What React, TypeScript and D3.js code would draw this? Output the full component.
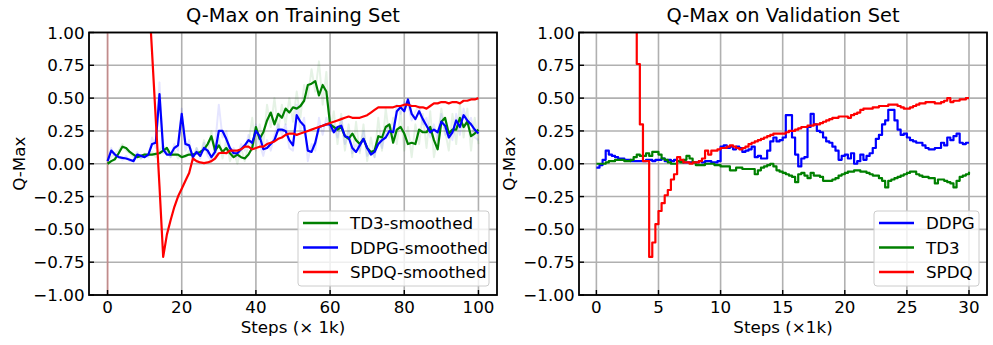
import React from 'react';
import * as d3 from 'd3';

// ---------- Training set: one point per 1k steps ----------
const trainSteps = d3.range(0, 101);

const trainTd3Smoothed = [
  0.0, 0.02, 0.035, 0.08, 0.13, 0.12, 0.09, 0.07, 0.05, 0.06,
  0.07, 0.07, 0.07, 0.075, 0.08, 0.1, 0.12, 0.07, 0.07, 0.07,
  0.05, 0.06, 0.07, 0.07, 0.08, 0.09, 0.11, 0.15, 0.21, 0.1,
  0.14, 0.09, 0.12, 0.08, 0.05, 0.07, 0.05, 0.04, 0.07, 0.12,
  0.28, 0.19, 0.24, 0.33, 0.39, 0.3, 0.38, 0.35, 0.42, 0.39,
  0.43, 0.42, 0.44, 0.48, 0.6, 0.61, 0.63, 0.52, 0.6, 0.55,
  0.3, 0.28, 0.26, 0.28, 0.21, 0.19, 0.23, 0.18, 0.15, 0.19,
  0.12, 0.09, 0.1, 0.21, 0.2, 0.28, 0.3, 0.16, 0.26, 0.28,
  0.23, 0.15, 0.16, 0.15, 0.26, 0.24, 0.24, 0.28, 0.18, 0.11,
  0.32, 0.35, 0.23, 0.26, 0.26, 0.35, 0.28, 0.32, 0.21, 0.23,
  0.26,
];

const trainDdpgSmoothed = [
  0.02, 0.1, 0.07, 0.05, 0.045, 0.04, 0.03, 0.02, 0.07, 0.06,
  0.05, 0.07, 0.15, 0.16, 0.53, 0.11, 0.07, 0.07, 0.12, 0.14,
  0.38, 0.15, 0.14, 0.05, 0.09, 0.06, 0.12, 0.1, 0.05, 0.09,
  0.25, 0.25, 0.19, 0.12, 0.08, 0.08, 0.11, 0.14, 0.18, 0.16,
  0.25, 0.21, 0.11, 0.12, 0.15, 0.18, 0.26, 0.26, 0.25, 0.18,
  0.14, 0.37, 0.32, 0.29, 0.1, 0.09, 0.16, 0.28, 0.29, 0.3,
  0.3, 0.24, 0.28, 0.29, 0.21, 0.2, 0.12, 0.09, 0.14, 0.19,
  0.12, 0.07, 0.09, 0.15, 0.18, 0.2, 0.25, 0.24, 0.4, 0.43,
  0.4, 0.49, 0.38, 0.34, 0.4, 0.34, 0.29, 0.24, 0.26, 0.24,
  0.32, 0.29, 0.2, 0.24, 0.33, 0.28, 0.37, 0.33, 0.3, 0.26,
  0.23,
];

const trainSpdqSmoothed = [
  9, 8, 7, 6, 5, 4.2, 3.5, 2.9, 2.4, 2.0,
  1.7, 1.35, 0.85, 0.34, -0.17, -0.71, -0.54, -0.43, -0.33, -0.25,
  -0.19, -0.13, -0.07, 0.04, 0.02, 0.01, 0.005, 0.01, 0.02, 0.04,
  0.08, 0.085, 0.08, 0.1, 0.1, 0.1, 0.11, 0.13, 0.13, 0.11,
  0.12, 0.13, 0.13, 0.15, 0.16, 0.17, 0.19, 0.2, 0.22, 0.23,
  0.23, 0.22, 0.23, 0.24, 0.25, 0.26, 0.27, 0.28, 0.29, 0.3,
  0.31, 0.32, 0.33, 0.34, 0.35, 0.36, 0.35, 0.35, 0.35, 0.36,
  0.37, 0.39, 0.41, 0.43, 0.43, 0.43, 0.43, 0.43, 0.44, 0.44,
  0.45, 0.45, 0.44, 0.44, 0.43, 0.43, 0.42, 0.44, 0.46, 0.46,
  0.47, 0.47, 0.46, 0.47, 0.47, 0.46, 0.48, 0.48, 0.49, 0.49,
  0.5,
];

// faint raw curves behind the smoothed ones
const trainTd3Raw = [
  0.02, 0.05, 0.08, 0.1, 0.15, 0.1, 0.08, 0.05, 0.07, 0.04,
  0.08, 0.06, 0.09, 0.05, 0.1, 0.14, 0.09, 0.05, 0.1, 0.04,
  0.07, 0.05, 0.1, 0.04, 0.12, 0.06, 0.18, 0.08, 0.25, 0.05,
  0.2, 0.04, 0.18, 0.02, 0.1, 0.0, 0.12, 0.02, 0.15, 0.35,
  0.1, 0.3, 0.15, 0.45, 0.28, 0.5, 0.25, 0.45, 0.3, 0.5,
  0.32, 0.55, 0.35, 0.6, 0.5, 0.72, 0.55, 0.78, 0.45, 0.7,
  0.25, 0.4, 0.15, 0.38, 0.1, 0.3, 0.05, 0.32, 0.08, 0.3,
  0.02, 0.2, 0.05, 0.35, 0.1, 0.42, 0.2, 0.35, 0.15, 0.4,
  0.1, 0.28, 0.05, 0.3, 0.15, 0.38, 0.12, 0.4, 0.05, 0.2,
  0.42, 0.25, 0.1, 0.38, 0.15, 0.45, 0.2, 0.42, 0.1, 0.35,
  0.15,
];

const trainDdpgRaw = [
  0.02, 0.12, 0.05, 0.06, 0.03, 0.06, 0.02, 0.03, 0.09, 0.04,
  0.07, 0.05, 0.2, 0.12, 0.62, 0.08, 0.1, 0.05, 0.15, 0.1,
  0.42, 0.1, 0.18, 0.02, 0.12, 0.04, 0.16, 0.06, 0.02, 0.14,
  0.45, 0.2, 0.25, 0.08, 0.12, 0.05, 0.15, 0.1, 0.22, 0.12,
  0.3, 0.15, 0.06, 0.18, 0.1, 0.22, 0.3, 0.22, 0.3, 0.12,
  0.1, 0.45, 0.25, 0.35, 0.02, 0.15, 0.1, 0.35, 0.22, 0.35,
  0.25, 0.3, 0.2, 0.35, 0.15, 0.25, 0.08, 0.15, 0.1, 0.25,
  0.06, 0.1, 0.05, 0.2, 0.12, 0.25, 0.3, 0.2, 0.45, 0.38,
  0.47, 0.45, 0.33, 0.4, 0.44, 0.3, 0.35, 0.2, 0.3, 0.18,
  0.38, 0.22, 0.25, 0.18, 0.38, 0.22, 0.42, 0.3, 0.35, 0.2,
  0.18,
];

// raw SPDQ only shows as the vertical streak at step 0
const trainSpdqRawSteps = [0, 0.05];
const trainSpdqRaw = [40, -40];

// ---------- Validation set: one point per 250 steps ----------
const valSteps = d3.range(0, 121).map((i) => i * 0.25);

const valDdpg = [
  -0.03, -0.01, 0.03, 0.1, 0.07, 0.06, 0.05, 0.04, 0.04, 0.03,
  0.03, 0.02, 0.02, 0.02, 0.02, 0.02, 0.03, 0.03, 0.02, 0.03,
  0.03, 0.04, 0.02, 0.03, 0.02, 0.03, 0.02, 0.02, 0.01, 0.01,
  0.01, 0.01, 0.01, 0.02, 0.01, 0.02, 0.02, 0.01, 0.01, 0.02,
  0.13, 0.14, 0.12, 0.13, 0.11, 0.13, 0.12, 0.09, 0.1, 0.11,
  0.13, 0.05, 0.06, 0.04, 0.04, 0.1, 0.17, 0.2, 0.17, 0.18,
  0.2, 0.37, 0.37, 0.2, 0.07, -0.02, 0.04, 0.05, 0.28, 0.38,
  0.3, 0.25, 0.24, 0.2, 0.17, 0.16, 0.13, 0.1, 0.03, 0.06,
  0.07, 0.04, 0.08, 0.0, 0.02, 0.07, 0.03, 0.06, 0.08, 0.12,
  0.19, 0.22, 0.3, 0.33, 0.41, 0.41, 0.33, 0.26, 0.22, 0.23,
  0.2, 0.18, 0.17, 0.16, 0.16, 0.14, 0.12, 0.11, 0.11, 0.12,
  0.12, 0.16, 0.14, 0.2, 0.18, 0.21, 0.23, 0.16, 0.15, 0.16,
  0.16,
];

const valTd3 = [
  0.0, 0.0, 0.0, 0.01, 0.02, 0.02, 0.03, 0.03, 0.03, 0.02,
  0.02, 0.03, 0.05, 0.07, 0.06, 0.06, 0.08, 0.06, 0.09, 0.09,
  0.07, 0.04, 0.03, 0.01, 0.0, 0.0, 0.02, 0.01, 0.03, 0.06,
  0.04, 0.01, -0.01, -0.01, -0.01, 0.0, 0.0, 0.0, -0.01, -0.01,
  -0.02, -0.02, -0.02, -0.05, -0.05, -0.03, -0.03, -0.04, -0.04, -0.04,
  -0.04, -0.08, -0.05, -0.03, -0.02, -0.01, 0.0, -0.02, -0.05, -0.06,
  -0.07, -0.08, -0.09, -0.1, -0.14, -0.08, -0.07, -0.09, -0.11, -0.07,
  -0.09, -0.09, -0.1, -0.13, -0.13, -0.13, -0.12, -0.11, -0.09, -0.08,
  -0.07, -0.06, -0.06, -0.05, -0.05, -0.06, -0.06, -0.07, -0.08, -0.09,
  -0.09, -0.11, -0.13, -0.18, -0.13, -0.12, -0.11, -0.1, -0.09, -0.08,
  -0.07, -0.06, -0.06, -0.08, -0.09, -0.1, -0.1, -0.11, -0.11, -0.15,
  -0.12, -0.12, -0.13, -0.14, -0.15, -0.18, -0.13, -0.1, -0.09, -0.08,
  -0.06,
];

const valSpdq = [
  2.5, 2.5, 2.5, 2.5, 2.5, 2.5, 2.5, 2.5, 2.5, 2.5,
  2.5, 2.5, 2.5, 0.76, 0.3, 0.02, 0.02, -0.71, -0.6, -0.46,
  -0.36, -0.3, -0.24, -0.2, -0.12, -0.08, 0.05, 0.03, 0.01, 0.01,
  0.0, 0.01, 0.01, 0.02, 0.04, 0.1, 0.07, 0.1, 0.1, 0.11,
  0.12, 0.12, 0.13, 0.14, 0.13, 0.12, 0.11, 0.12, 0.13, 0.15,
  0.16, 0.17, 0.18, 0.19, 0.2, 0.21, 0.22, 0.23, 0.23, 0.23,
  0.23, 0.24, 0.25, 0.25, 0.26, 0.27, 0.28, 0.28, 0.29, 0.29,
  0.3, 0.3, 0.31, 0.32, 0.33, 0.34, 0.35, 0.35, 0.36, 0.36,
  0.36, 0.35, 0.37, 0.38, 0.39, 0.41, 0.42, 0.42, 0.42, 0.43,
  0.43, 0.44, 0.44, 0.44, 0.45, 0.45, 0.45, 0.44, 0.43, 0.42,
  0.42, 0.43, 0.44, 0.45, 0.46, 0.46, 0.47, 0.47, 0.47, 0.46,
  0.46, 0.47, 0.48, 0.5, 0.47, 0.48, 0.48, 0.49, 0.49, 0.5,
  0.5,
];

// ---------- axes ----------
const qTicks = [-1, -0.75, -0.5, -0.25, 0, 0.25, 0.5, 0.75, 1];
const trainTicks = [0, 20, 40, 60, 80, 100];
const valTicks = [0, 5, 10, 15, 20, 25, 30];

const FONT = '"DejaVu Sans", sans-serif';
const W = 993;
const H = 345;
const TOP = 32.5;
const BOTTOM = 295;
const fmt = d3.format('.2f');

type Layer = {
  steps: number[];
  values: number[];
  color: string;
  width?: number;
  opacity?: number;
  step?: boolean;
};

type LegendItem = { label: string; color: string };

type PanelProps = {
  id: string;
  left: number;
  right: number;
  xDomain: [number, number];
  xTicks: number[];
  title: string;
  xLabel: string;
  yLabelX: number;
  layers: Layer[];
  legend: LegendItem[];
  legendX: number;
  legendW: number;
};

function Panel(p: PanelProps) {
  const x = d3.scaleLinear().domain(p.xDomain).range([p.left, p.right]);
  const y = d3.scaleLinear().domain([-1, 1]).range([BOTTOM, TOP]);
  const mid = (p.left + p.right) / 2;
  const legendY = 211;
  const rowGap = 24.5;

  return (
    <g fontFamily={FONT}>
      <defs>
        <clipPath id={p.id}>
          <rect x={p.left} y={TOP} width={p.right - p.left} height={BOTTOM - TOP} />
        </clipPath>
      </defs>

      {/* grid */}
      <g stroke="#b0b0b0" strokeWidth={1.6}>
        {p.xTicks.map((t) => (
          <line key={'gx' + t} x1={x(t)} x2={x(t)} y1={TOP} y2={BOTTOM} />
        ))}
        {qTicks.map((t) => (
          <line key={'gy' + t} x1={p.left} x2={p.right} y1={y(t)} y2={y(t)} />
        ))}
      </g>

      {/* lines */}
      <g clipPath={`url(#${p.id})`} fill="none" strokeLinejoin="round">
        {p.layers.map((s, i) => {
          const line = d3
            .line<number>()
            .x((_, j) => x(s.steps[j]))
            .y((v) => y(v))
            .curve(s.step ? d3.curveStepAfter : d3.curveLinear);
          return (
            <path
              key={i}
              d={line(s.values) ?? ''}
              stroke={s.color}
              strokeWidth={s.width ?? 2.2}
              strokeOpacity={s.opacity ?? 1}
            />
          );
        })}
      </g>

      {/* inward ticks */}
      <g stroke="#000" strokeWidth={1.4}>
        {qTicks.map((t) => (
          <line key={'ty' + t} x1={p.left} x2={p.left + 5} y1={y(t)} y2={y(t)} />
        ))}
        {p.xTicks.map((t) => (
          <line key={'tx' + t} x1={x(t)} x2={x(t)} y1={BOTTOM} y2={BOTTOM - 5} />
        ))}
      </g>

      {/* spines */}
      <rect
        x={p.left}
        y={TOP}
        width={p.right - p.left}
        height={BOTTOM - TOP}
        fill="none"
        stroke="#000"
        strokeWidth={1.8}
      />

      {/* tick labels */}
      <g fontSize={16.7} fill="#000">
        {qTicks.map((t) => (
          <text key={'ly' + t} x={p.left - 4.5} y={y(t)} dy="0.36em" textAnchor="end">
            {fmt(t)}
          </text>
        ))}
        {p.xTicks.map((t) => (
          <text key={'lx' + t} x={x(t)} y={312.5} textAnchor="middle">
            {t}
          </text>
        ))}
      </g>

      <text x={mid} y={22} fontSize={19.4} textAnchor="middle">
        {p.title}
      </text>
      <text x={mid} y={333} fontSize={16.7} textAnchor="middle">
        {p.xLabel}
      </text>
      <text
        transform={`translate(${p.yLabelX},${(TOP + BOTTOM) / 2}) rotate(-90)`}
        fontSize={16.7}
        textAnchor="middle"
      >
        Q-Max
      </text>

      {/* legend */}
      <g>
        <rect
          x={p.legendX}
          y={legendY}
          width={p.legendW}
          height={75}
          rx={3}
          fill="#fff"
          fillOpacity={0.8}
          stroke="#cccccc"
          strokeWidth={1}
        />
        {p.legend.map((d, i) => {
          const cy = legendY + 12 + i * rowGap;
          return (
            <g key={d.label}>
              <line
                x1={p.legendX + 5}
                x2={p.legendX + 40}
                y1={cy}
                y2={cy}
                stroke={d.color}
                strokeWidth={2.6}
              />
              <text x={p.legendX + 52} y={cy} dy="0.36em" fontSize={16.7}>
                {d.label}
              </text>
            </g>
          );
        })}
      </g>
    </g>
  );
}

export default function App() {
  const trainLayers: Layer[] = [
    { steps: trainSteps, values: trainTd3Raw, color: '#008000', opacity: 0.1, width: 2 },
    { steps: trainSteps, values: trainDdpgRaw, color: '#0000ff', opacity: 0.1, width: 2 },
    { steps: trainSpdqRawSteps, values: trainSpdqRaw, color: '#ff0000', opacity: 0.2, width: 2 },
    { steps: trainSteps, values: trainTd3Smoothed, color: '#008000' },
    { steps: trainSteps, values: trainDdpgSmoothed, color: '#0000ff' },
    { steps: trainSteps, values: trainSpdqSmoothed, color: '#ff0000' },
  ];
  const valLayers: Layer[] = [
    { steps: valSteps, values: valDdpg, color: '#0000ff', step: true },
    { steps: valSteps, values: valTd3, color: '#008000', step: true },
    { steps: valSteps, values: valSpdq, color: '#ff0000', step: true },
  ];

  return (
    <div style={{ position: 'fixed', left: 0, top: 0 }}>
      <svg width={W} height={H} style={{ display: 'block', background: '#fff' }}>
        <Panel
          id="clip-train"
          left={89}
          right={497}
          xDomain={[-5, 105]}
          xTicks={trainTicks}
          title="Q-Max on Training Set"
          xLabel="Steps (× 1k)"
          yLabelX={25}
          layers={trainLayers}
          legend={[
            { label: 'TD3-smoothed', color: '#008000' },
            { label: 'DDPG-smoothed', color: '#0000ff' },
            { label: 'SPDQ-smoothed', color: '#ff0000' },
          ]}
          legendX={298}
          legendW={191}
        />
        <Panel
          id="clip-val"
          left={579}
          right={987}
          xDomain={[-1.4, 31.45]}
          xTicks={valTicks}
          title="Q-Max on Validation Set"
          xLabel="Steps (×1k)"
          yLabelX={515}
          layers={valLayers}
          legend={[
            { label: 'DDPG', color: '#0000ff' },
            { label: 'TD3', color: '#008000' },
            { label: 'SPDQ', color: '#ff0000' },
          ]}
          legendX={874}
          legendW={105}
        />
      </svg>
    </div>
  );
}
